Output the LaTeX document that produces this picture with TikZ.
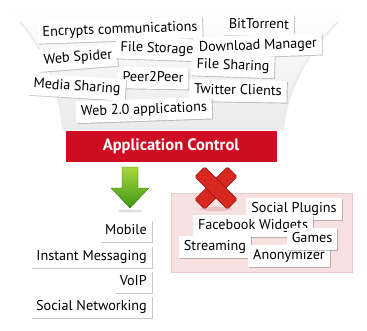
\documentclass[tikz,border=0pt]{standalone}
\usepackage{fontspec}
\setmainfont{PT Sans}
\usetikzlibrary{shadows}
\definecolor{acred}{RGB}{206,12,34}
\definecolor{xred}{RGB}{214,40,30}
\definecolor{xdark}{RGB}{150,20,15}
\definecolor{pinkbg}{RGB}{246,224,224}
\definecolor{pinkline}{RGB}{236,200,200}
\definecolor{glight}{RGB}{170,215,60}
\definecolor{gdark}{RGB}{60,150,20}
\begin{document}
\begin{tikzpicture}[x=1pt,y=-1pt,
  lab/.style={fill=white, font=\fontsize{14.2}{16}\selectfont, inner xsep=5pt, inner ysep=4pt,
    text height=10.5pt, text depth=3.2pt,
    drop shadow={shadow xshift=0.9pt, shadow yshift=-0.9pt, opacity=0.22, fill=black}},
  rlab/.style={lab, anchor=east}]
\useasboundingbox (0,0) rectangle (367,330);
% funnel
\shade[top color=white, bottom color=gray!16]
  (6,4) .. controls (40,40) and (60,90) .. (63,130) -- (283,130)
  .. controls (286,90) and (310,40) .. (352,4) -- cycle;
\draw[gray!16, line width=2pt] (20,22) .. controls (44,48) and (60,90) .. (63,130);
\draw[gray!16, line width=2pt] (338,22) .. controls (310,48) and (286,90) .. (283,130);
% top labels
\node[lab, rotate=2] (enc) at (120,30) {Encrypts communications};
\node[lab, rotate=-1] (bit) at (259,25) {BitTorrent};
\node[lab, rotate=4.5] (spider) at (78,58) {Web Spider};
\node[lab, rotate=-2] (fstor) at (157,49) {File Storage};
\node[lab, rotate=2] (dl) at (258,46) {Download Manager};
\node[lab, rotate=-2] (fshare) at (233,66) {File Sharing};
\node[lab, rotate=-1] (p2p) at (153,78) {Peer2Peer};
\node[lab, rotate=-3.5] (media) at (77,87) {Media Sharing};
\node[lab, rotate=-1] (tw) at (238,91) {Twitter Clients};
\node[lab, rotate=2] (web2) at (144,110) {Web 2.0 applications};
% red bar
\node[fill=acred, minimum width=212pt, minimum height=32pt, text=white,
  font=\fontsize{16.5}{18}\selectfont\bfseries, draw=white, line width=0.6pt,
  drop shadow={shadow xshift=0.8pt, shadow yshift=-0.8pt, opacity=0.2, fill=black}] (ac) at (171,146) {Application Control};
% pink box
\fill[pinkbg, draw=pinkline, line width=0.6pt] (171,193) rectangle (352,272);
% green arrow
\shade[top color=glight, bottom color=gdark, draw=gdark!80!black, line width=0.4pt]
  (122,167) -- (138,167) -- (138,188) -- (149,188) -- (130,208) -- (111,188) -- (122,188) -- cycle;
\fill[gray!25] (130,211) ellipse (12pt and 1.5pt);
% red X
\begin{scope}[shift={(216,188)}]
  \fill[xdark!40, opacity=0.5] (0,21) ellipse (16pt and 2pt);
  \foreach \a in {45,-45}{
    \fill[xred, draw=xdark, line width=0.5pt, rotate=\a, rounded corners=1.5pt] (-23,-7) rectangle (23,7);
  }
  \fill[xred, rotate=45] (-6.4,-6.4) rectangle (6.4,6.4);
\end{scope}
% labels in pink box
\node[lab] (sp) at (294,209) {Social Plugins};
\node[lab] (fb) at (253,226) {Facebook Widgets};
\node[lab] (str) at (215,247) {Streaming};
\node[lab] (anon) at (289,256) {Anonymizer};
\node[lab] (games) at (312,239) {Games};
% left column
\node[rlab] (mob) at (152,231) {Mobile};
\node[rlab] (im) at (152,257) {Instant Messaging};
\node[rlab] (voip) at (152,282) {VoIP};
\node[rlab] (sn) at (152,307) {Social Networking};
\end{tikzpicture}
\end{document}
